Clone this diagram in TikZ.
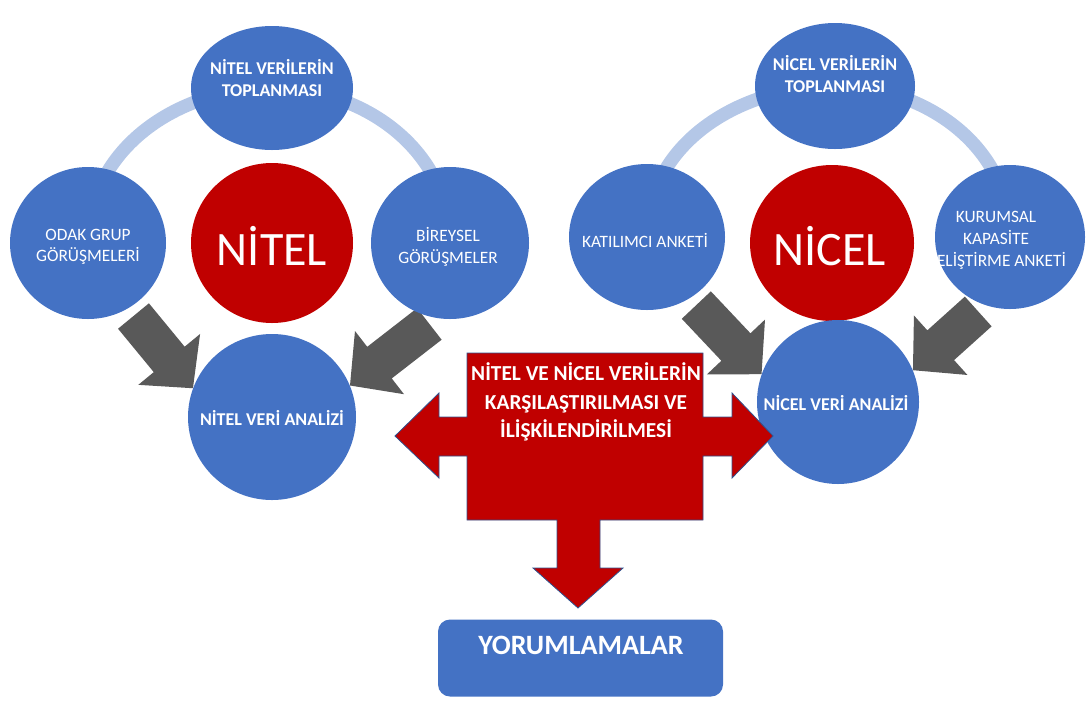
\documentclass[tikz,border=0pt]{standalone}
\usepackage{fontspec}
\setmainfont{Carlito}
\usetikzlibrary{shapes.geometric,calc,backgrounds}
\definecolor{cblue}{RGB}{68,114,196}
\definecolor{cred}{RGB}{192,0,0}
\definecolor{cgray}{RGB}{89,89,89}
\definecolor{cring}{RGB}{180,199,231}
\definecolor{cedge}{RGB}{47,82,143}
\tikzset{
  bluecirc/.style={ellipse, fill=cblue, inner sep=0pt},
  redcirc/.style={ellipse, fill=cred, inner sep=0pt},
  circtext/.style={text=white, align=center, inner sep=0pt, font=\fontsize{13}{16}\selectfont},
  boldtext/.style={circtext, font=\fontsize{13.5}{16}\selectfont\bfseries},
  bigtext/.style={text=white, inner sep=0pt, font=\fontsize{36}{40}\selectfont},
  ringline/.style={draw=cring, line width=10pt},
  blockarrow/.style={fill=cgray, to path={
    let \p1=($(\tikztostart)!7pt!(\tikztotarget)$), \p2=(\tikztotarget), \p3=($(\p2)!28pt!(\p1)$) in
    ($(\p1)!15pt!90:(\p2)$) -- ($(\p3)!15pt!90:(\p2)$) -- ($(\p3)!30pt!90:(\p2)$) -- (\p2)
    -- ($(\p3)!30pt!-90:(\p2)$) -- ($(\p3)!15pt!-90:(\p2)$) -- ($(\p1)!15pt!-90:(\p2)$) -- cycle}},
}
\begin{document}
\begin{tikzpicture}[x=0.75pt,y=0.75pt,yscale=-1]
\useasboundingbox (0,0) rectangle (1088,701);
%Shape: Circle
\node[bluecirc, minimum width=121.5pt, minimum height=93pt] (nitop) at (272,88) {};
%Shape: Circle
\node[bluecirc, minimum width=117pt, minimum height=114pt] (odak) at (88,243) {};
%Shape: Circle
\node[redcirc, minimum width=121.5pt, minimum height=120pt] (nitel) at (272,243) {};
%Shape: Circle
\node[bluecirc, minimum width=118.5pt, minimum height=114pt] (bireysel) at (450,243) {};
%Shape: Circle
\node[bluecirc, minimum width=126pt, minimum height=124.5pt] (nitelan) at (272,417) {};
%Shape: Circle
\node[bluecirc, minimum width=120pt, minimum height=94.5pt] (nicetop) at (835,86) {};
%Shape: Circle
\node[bluecirc, minimum width=117pt, minimum height=109.5pt] (katilimci) at (647,237) {};
%Shape: Circle
\node[redcirc, minimum width=123pt, minimum height=117pt] (nicel) at (832,243) {};
%Shape: Circle
\node[bluecirc, minimum width=112.5pt, minimum height=108pt] (kurumsal) at (1010,237) {};
%Shape: Circle
\node[bluecirc, minimum width=121.5pt, minimum height=123pt] (nicelan) at (838,402) {};
%Shape: Rounded Rectangle
\node[fill=cblue, rounded corners=9pt, minimum width=213.75pt, minimum height=57.75pt] (yorum) at (580.5,658) {};

\begin{pgfonlayer}{background}
%Curve Lines
\draw[ringline] (odak.center) to[out=-90,in=180] (nitop.center);
\draw[ringline] (nitop.center) to[out=0,in=-90] (bireysel.center);
\draw[ringline] (katilimci.center) to[out=-90,in=180] (nicetop.center);
\draw[ringline] (nicetop.center) to[out=0,in=-90] (kurumsal.center);
%Block Arrows
\path[blockarrow] (odak.-59) to (nitelan.160);
\path[blockarrow] (bireysel.-100) to (nitelan.22);
\path[blockarrow] (katilimci.-55) to (nicelan.160);
\path[blockarrow] (kurumsal.-110) to (nicelan.23);
\end{pgfonlayer}

%Shape: Quad Arrow
\draw[fill=cred, draw=cedge, line width=0.6pt] (467,353) -- (703,353) -- (703,417) -- (732,417) -- (732,393) -- (773,436) -- (732,478) -- (732,456) -- (703,456) -- (703,520) -- (600,520) -- (600,568) -- (623,568) -- (578,608) -- (533,568) -- (557,568) -- (557,520) -- (467,520) -- (467,456) -- (439,456) -- (439,478) -- (395,436) -- (439,393) -- (439,417) -- (467,417) -- cycle;

% Text Node
\node[boldtext] (nitopt) at (272,78) {NİTEL VERİLERİN\\TOPLANMASI};
\node[circtext] (odakt) at (88,247) {ODAK GRUP\\GÖRÜŞMELERİ};
\node[bigtext] (nitelt) at (272,246) {NİTEL};
\node[circtext] (bireyselt) at (448,247) {BİREYSEL\\GÖRÜŞMELER};
\node[boldtext] (nitelant) at (272,418) {NİTEL VERİ ANALİZİ};
\node[boldtext] (nicetopt) at (835,74) {NİCEL VERİLERİN\\TOPLANMASI};
\node[circtext] (katilimcit) at (645,240) {KATILIMCI ANKETİ};
\node[bigtext] (nicelt) at (830,246) {NİCEL};
\node[circtext, font=\fontsize{13}{16.5}\selectfont] (kurumsalt) at (996,240) {KURUMSAL\\KAPASİTE\\GELİŞTİRME ANKETİ};
\node[boldtext] (nicelant) at (836,403) {NİCEL VERİ ANALİZİ};
\node[text=white, align=center, inner sep=0pt, font=\fontsize{16}{21.5}\selectfont\bfseries] (compare) at (586,402) {NİTEL VE NİCEL VERİLERİN\\KARŞILAŞTIRILMASI VE\\İLİŞKİLENDİRİLMESİ};
\node[text=white, inner sep=0pt, font=\fontsize{21}{24}\selectfont\bfseries] (yorumt) at (581,645) {YORUMLAMALAR};
\end{tikzpicture}
\end{document}
